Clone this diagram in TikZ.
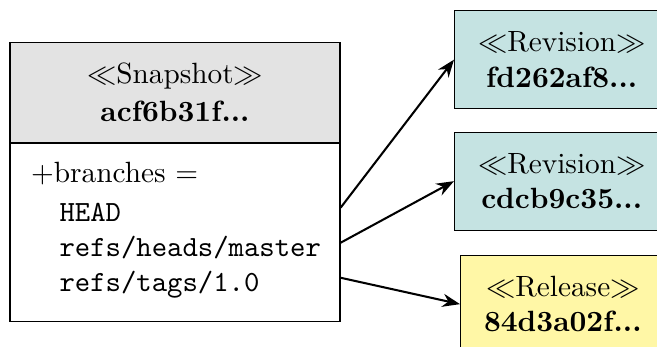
\documentclass[tikz,border=0pt]{standalone}
\usepackage{tikz}
\usetikzlibrary{arrows.meta,positioning}
\definecolor{headfill}{HTML}{E3E3E3}
\definecolor{revisionfill}{HTML}{C5E3E2}
\definecolor{releasefill}{HTML}{FFF7A6}
\tikzset{
	classhead/.style={draw, fill=headfill, minimum width=3.96cm, minimum height=1.2cm, align=center, inner sep=0pt},
	classbody/.style={draw, minimum width=3.96cm, minimum height=2.128cm, inner sep=0pt},
	objbox/.style={draw, align=center, inner xsep=8pt, inner ysep=0pt, minimum height=1.176cm, anchor=west},
	attr/.style={anchor=base west, inner sep=0pt},
	refline/.style={attr, font=\ttfamily, text height=9.5pt, text depth=0pt},
	link/.style={-{Stealth[length=6pt,width=4.5pt]}, line width=0.7pt}
}
\begin{document}
\begin{tikzpicture}
			%%%%% START %%%%%
			\useasboundingbox (0, 0) rectangle (7.884, 4.164);
			
			% snapshot
			\node[classhead] (snaphead) at (2.1, 3.052) {$\ll$Snapshot$\gg$\\[1pt]\textbf{acf6b31f...}};
			\node[classbody, below=0pt of snaphead] (snapbody) {};
			
			\node[attr] (branches) at (0.366, 1.972) {+branches =};
			\node[refline] (head) at (0.708, 1.504) {HEAD};
			\node[refline] (master) at (0.708, 1.084) {refs/heads/master};
			\node[refline] (tag) at (0.708, 0.664) {refs/tags/1.0};
			
			% targets
			\node[objbox, fill=revisionfill] (rev1) at (5.448, 3.448) {$\ll$Revision$\gg$\\\textbf{fd262af8...}};
			\node[objbox, fill=revisionfill] (rev2) at (5.448, 1.99) {$\ll$Revision$\gg$\\\textbf{cdcb9c35...}};
			\node[objbox, fill=releasefill] (rel) at (5.52, 0.514) {$\ll$Release$\gg$\\\textbf{84d3a02f...}};
			
			\draw[link] (snapbody.east |- head.center) -- (rev1.west);
			\draw[link] (snapbody.east |- master.center) -- (rev2.west);
			\draw[link] (snapbody.east |- tag.center) -- (rel.west);
			%%%%% END %%%%%
\end{tikzpicture}
\end{document}
